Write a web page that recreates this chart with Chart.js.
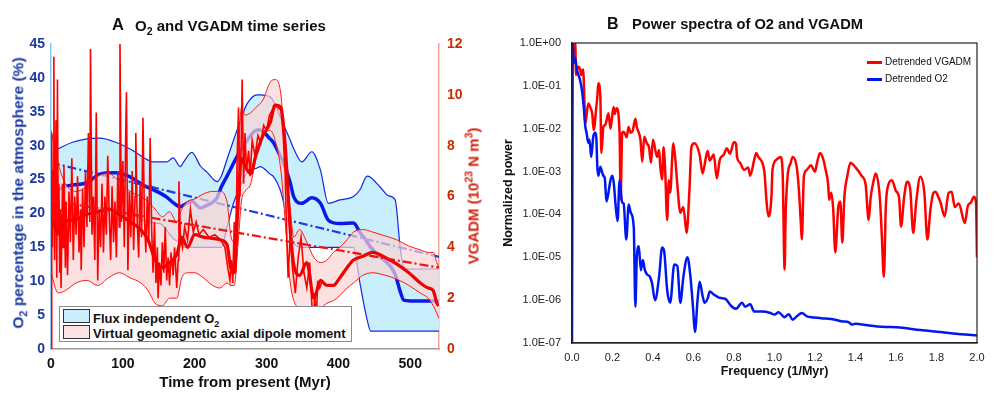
<!DOCTYPE html>
<html>
<head>
<meta charset="utf-8">
<script src="https://cdn.jsdelivr.net/npm/chart.js@4.4.1/dist/chart.umd.min.js"></script>
<style>
  body { margin: 0; background: #fff; }
  #wrap { position: relative; width: 1000px; height: 398px; font-family: "Liberation Sans", Arial, sans-serif; overflow: hidden; }
  canvas { position: absolute; top: 0; }
  #chartA { left: 0; }
  #chartB { left: 500px; }
  .lbl { position: absolute; white-space: nowrap; font-weight: bold; line-height: 1; color: #111; }
  .lbl sub, .lbl sup { font-size: 0.7em; line-height: 0; }
  .rot { transform: translate(-50%, -50%) rotate(-90deg); }
  #legA { position: absolute; left: 59px; top: 306px; width: 291px; height: 34px; border: 1px solid #8a8a8a; background: #fff; }
  .sw { position: absolute; width: 25px; height: 12px; border: 1px solid #333; }
  .legTxt { position: absolute; font-size: 13px; font-weight: bold; white-space: nowrap; line-height: 1; color: #111; }
  .legTxt sub { font-size: 0.7em; line-height: 0; }
  .legB { position: absolute; font-size: 10px; white-space: nowrap; line-height: 1; color: #111; }
  .legB i { position: absolute; left: -18px; top: 4px; width: 15px; height: 3px; }
</style>
</head>
<body>
<div id="wrap">
  <canvas id="chartA" width="500" height="398"></canvas>
  <canvas id="chartB" width="500" height="398"></canvas>

  <div class="lbl" style="left:112px; top:16px; font-size:16.5px;">A</div>
  <div class="lbl" style="left:135px; top:18px; font-size:15px;">O<sub>2</sub> and VGADM time series</div>
  <div class="lbl" style="left:607px; top:16px; font-size:16px;">B</div>
  <div class="lbl" style="left:632px; top:17px; font-size:14.7px;">Power spectra of O2 and VGADM</div>

  <div class="lbl rot" style="left:18px; top:193px; font-size:15.5px; color:#1b3a9e;">O<sub>2</sub> percentage in the atmosphere (%)</div>
  <div class="lbl rot" style="left:473px; top:196px; font-size:15px; color:#d3260e;">VGADM (10<sup>23</sup> N m<sup>3</sup>)</div>

  <div id="legA">
    <div class="sw" style="left:3px; top:2px; background:#c8effb;"></div>
    <div class="legTxt" style="left:33px; top:5px;">Flux independent O<sub>2</sub></div>
    <div class="sw" style="left:3px; top:18px; background:#fbe3e3;"></div>
    <div class="legTxt" style="left:33px; top:20px;">Virtual geomagnetic axial dipole moment</div>
  </div>

  <div class="legB" style="left:885px; top:57px;"><i style="background:#ff0000;"></i>Detrended VGADM</div>
  <div class="legB" style="left:885px; top:74px;"><i style="background:#0018f0;"></i>Detrended O2</div>
</div>

<script>
// ---- panel A: O2 (left axis, %) ----
const o2Age = [0, 15, 30, 50, 68, 90, 110, 128, 142, 152,
  161, 170, 180, 184, 196, 208, 217, 231, 237, 245,
  254, 263, 273, 287, 291, 305, 310, 319, 324, 333,
  338, 349, 363, 375, 386, 402, 421, 430, 440, 445,
  458, 470, 479, 486, 491, 500, 540];
const o2Upper = [28.9, 29.8, 30.5, 31.0, 31.1, 30.5, 29.5, 28.3, 27.6, 27.6,
  27.6, 28.2, 26.9, 27.5, 29.0, 27.0, 26.1, 24.7, 25.5, 28.0,
  30.8, 33.5, 36.2, 37.5, 37.5, 37.2, 36.5, 34.3, 33.0, 30.8,
  29.5, 27.6, 29.1, 26.4, 21.5, 22.0, 22.5, 23.5, 25.5, 25.3,
  23.9, 22.6, 22.0, 15.0, 12.0, 11.8, 11.8];
const o2Lower = [17.8, 18.5, 19.5, 20.5, 20.8, 20.6, 20.0, 19.0, 18.6, 18.5,
  17.5, 16.3, 15.6, 15.0, 15.0, 15.0, 15.0, 15.0, 15.0, 18.0,
  21.5, 23.9, 26.0, 26.7, 26.9, 25.8, 25.4, 23.5, 21.5, 17.5,
  15.6, 15.0, 15.0, 15.0, 15.0, 15.0, 15.0, 9.7, 4.3, 2.65,
  2.65, 2.65, 2.65, 2.65, 2.65, 2.65, 2.65];
const o2Median = [22.5, 23.8, 24.2, 24.5, 25.8, 26.0, 25.4, 24.2, 23.5, 23.0,
  22.4, 21.6, 21.0, 21.2, 21.8, 20.8, 21.2, 22.3, 23.9, 25.5,
  27.4, 29.2, 30.8, 32.3, 32.3, 31.0, 30.4, 28.5, 27.4, 24.5,
  22.4, 21.5, 22.3, 21.5, 19.0, 18.5, 18.6, 17.2, 15.8, 15.0,
  13.6, 12.5, 11.0, 8.5, 7.2, 7.1, 7.1];

// ---- panel A: VGADM (right axis, 10^23 N m^3) ----
const vgAge = [0, 10, 20, 35, 50, 65, 80, 95, 110, 125,
  135, 145, 155, 165, 175, 182, 190, 200, 212, 225,
  235, 245, 250, 255, 260, 265, 270, 278, 285, 295,
  305, 312, 320, 326, 333, 338, 346, 356, 366, 375,
  384, 393, 402, 412, 421, 434, 448, 465, 481, 498,
  514, 525, 532, 537, 540];
const vgUpper = [8.6, 7.3, 6.5, 6.2, 6.4, 6.8, 6.9, 6.6, 6.2, 6.0,
  5.8, 5.5, 5.2, 5.4, 5.0, 5.5, 5.8, 5.9, 6.1, 6.2,
  6.2, 5.8, 4.5, 4.2, 7.0, 9.5, 9.2, 9.3, 9.5, 9.8,
  10.5, 10.6, 10.0, 7.5, 5.5, 4.4, 4.7, 4.2, 3.6, 3.4,
  3.5, 3.8, 4.0, 4.3, 4.6, 4.7, 4.6, 4.45, 4.3, 4.05,
  3.9, 3.8, 3.8, 3.4, 3.2];
const vgLower = [3.0, 2.2, 2.3, 2.6, 2.7, 2.5, 2.8, 3.0, 2.8, 2.6,
  2.3, 1.8, 1.7, 2.0, 2.0, 2.8, 3.0, 3.0, 2.8, 2.5,
  2.4, 2.6, 2.5, 2.5, 4.0, 5.8, 6.2, 6.5, 7.5, 8.4,
  8.6, 8.2, 7.0, 5.0, 2.6, 1.9, 1.6, 1.5, 1.4, 1.6,
  1.8, 1.9, 2.1, 2.4, 2.6, 2.9, 3.0, 2.9, 2.75, 2.5,
  2.2, 2.0, 1.7, 1.4, 1.2];
const vgMedian = [5.2, 4.6, 5.0, 5.1, 5.3, 5.4, 5.5, 5.3, 5.0, 4.7,
  4.3, 3.5, 3.2, 3.4, 3.7, 4.4, 4.0, 4.5, 4.4, 4.35,
  4.3, 4.1, 3.2, 3.0, 5.5, 7.5, 7.2, 6.9, 7.6, 8.4,
  8.9, 9.6, 9.5, 8.0, 4.7, 3.3, 2.9, 3.4, 2.0, 2.7,
  2.5, 2.5, 2.8, 3.2, 3.5, 3.65, 3.8, 3.6, 3.35, 3.0,
  2.6, 2.4, 2.3, 1.8, 1.7];

// raw VGADM record
const rawAge = [0, 1, 2, 3, 4, 5, 6, 7, 8, 9,
  10, 11, 12, 13, 14, 16, 17, 18, 20, 21,
  23, 25, 27, 29, 31, 33, 35, 37, 39, 41,
  42, 44, 46, 48, 50, 52, 54, 55, 57, 59,
  61, 63, 65, 67, 69, 71, 73, 75, 77, 79,
  81, 83, 85, 87, 89, 91, 93, 95, 96, 98,
  100, 102, 104, 105, 107, 109, 111, 113, 115, 117,
  118, 120, 122, 124, 126, 128, 130, 132, 134, 136,
  138, 140, 142, 144, 146, 148, 149, 151, 153, 155,
  157, 159, 161, 163, 165, 167, 170, 172, 175, 177,
  178, 180, 183, 186, 190, 194, 198, 202, 206, 212,
  220, 228, 236, 242, 246, 249, 251, 253, 255, 257,
  259, 261, 263, 265, 266, 268, 270, 272, 275, 277,
  280, 284, 288, 292, 296, 300, 304, 308, 312, 316,
  320, 323, 326, 328, 330, 333, 336, 340, 344, 348,
  352, 356, 360, 363, 365, 367, 369, 371, 374, 378];
const rawVgadm = [0, 8.5, 4, 7, 11.5, 3.5, 6, 9, 2.8, 10.6,
  4.5, 6.5, 3, 5.5, 2.4, 6.5, 4, 7.2, 3.2, 5.8,
  2.9, 6.2, 4.2, 7.5, 3.5, 6, 4.5, 6.8, 3.8, 5.5,
  3.1, 6.3, 4, 7, 4.8, 8.5, 5, 11.8, 4.5, 6,
  3.5, 9.3, 2.7, 5.5, 4, 6.5, 3.8, 6, 4.5, 7.6,
  5.3, 3.5, 6.4, 4.2, 5.8, 3.6, 7, 4.8, 12, 5,
  7.4, 4, 8.5, 10.1, 3.1, 6.2, 4.4, 7, 3.9, 6,
  8.5, 5, 3.6, 6.5, 4.4, 9.1, 5.2, 3.8, 6, 4.2,
  8.3, 4.8, 3, 5, 2.6, 4, 2.0, 3.4, 2.5, 4.2,
  3, 4.8, 2.7, 3.6, 2.5, 3.8, 2.9, 4, 2.4, 3.5,
  6.6, 4.5, 4, 4.8, 4.3, 5.5, 4.6, 5, 4.5, 4.7,
  4.4, 4.5, 4.3, 4, 3.2, 2.7, 3.5, 2.6, 5, 3,
  7.5, 9.5, 6, 8.5, 10.6, 6.5, 8.5, 7, 7.8, 6.8,
  8.2, 7.6, 8.4, 8.1, 8.8, 8.6, 9.2, 9.4, 9.6, 9.5,
  9.4, 8.5, 6.8, 4.5, 2.8, 4.5, 3.2, 2.2, 3.6, 4.4,
  3, 2.4, 3.4, 1.8, 0.6, 2.2, 0.9, 2.6, 2.4, 2.7];

// linear trends
const trendAge = [0, 540];
const o2Trend = [27.5, 13.6];
const vgadmTrend = [5.85, 3.2];

const ageTicks = [0, 100, 200, 300, 400, 500];

// ---- panel B: power spectra ----
const freqVgadm = [0, 0.005, 0.016, 0.02, 0.03, 0.04, 0.045, 0.055, 0.066, 0.08,
  0.09, 0.1, 0.107, 0.12, 0.125, 0.13, 0.14, 0.145, 0.155, 0.165,
  0.18, 0.19, 0.205, 0.21, 0.22, 0.235, 0.24, 0.248, 0.256, 0.27,
  0.279, 0.29, 0.3, 0.313, 0.32, 0.338, 0.347, 0.357, 0.37, 0.38,
  0.39, 0.4, 0.42, 0.43, 0.436, 0.445, 0.452, 0.46, 0.47, 0.478,
  0.485, 0.495, 0.5, 0.51, 0.52, 0.535, 0.55, 0.566, 0.58, 0.59,
  0.605, 0.63, 0.645, 0.66, 0.67, 0.68, 0.7, 0.715, 0.73, 0.75,
  0.765, 0.78, 0.8, 0.81, 0.815, 0.83, 0.85, 0.87, 0.88, 0.9,
  0.91, 0.92, 0.95, 0.96, 0.97, 0.985, 0.99, 1.01, 1.03, 1.04,
  1.05, 1.055, 1.065, 1.08, 1.09, 1.11, 1.12, 1.13, 1.135, 1.145,
  1.16, 1.18, 1.2, 1.21, 1.225, 1.24, 1.25, 1.265, 1.27, 1.28,
  1.29, 1.3, 1.315, 1.325, 1.335, 1.345, 1.36, 1.375, 1.4, 1.43,
  1.45, 1.465, 1.475, 1.49, 1.5, 1.52, 1.53, 1.54, 1.55, 1.56,
  1.58, 1.6, 1.615, 1.625, 1.64, 1.655, 1.67, 1.685, 1.7, 1.72,
  1.74, 1.755, 1.77, 1.785, 1.795, 1.81, 1.82, 1.84, 1.86, 1.875,
  1.89, 1.91, 1.94, 1.955, 1.97, 1.985, 1.995, 2.0];
const powerVgadm = [2.8e-1, 5e-1, 1.0, 1.8e-1, 2.8e-1, 2.5e-1, 1.8e-1, 2.4e-1, 1.3e-2, 3.9e-2,
  3.2e-2, 2.2e-2, 9.3e-3, 3.2e-2, 5.5e-2, 1.15e-1, 5.6e-2, 2.7e-3, 1.1e-2, 1.25e-2,
  2.3e-2, 1.0e-2, 3.2e-2, 2.2e-2, 3.0e-2, 8e-3, 2.2e-4, 8e-3, 8.5e-3, 6.3e-3,
  1.1e-2, 8e-3, 9e-3, 1.7e-2, 1.1e-2, 5.5e-3, 1.7e-3, 6.5e-3, 4.5e-3, 3.8e-3,
  1.6e-3, 5.5e-3, 2.2e-3, 3.2e-3, 1.3e-3, 6.5e-4, 3.7e-3, 1.1e-3, 7.4e-5, 6.3e-4,
  3.2e-4, 2.2e-3, 4.6e-3, 2.0e-3, 5e-4, 1.1e-4, 1.5e-4, 3.7e-5, 3.8e-4, 3.8e-3,
  4.6e-3, 2.5e-3, 9e-4, 2.0e-3, 3.0e-3, 1.8e-3, 2.5e-3, 7e-4, 1.9e-3, 2.5e-3,
  3.5e-3, 2.6e-3, 4.9e-3, 4.4e-3, 2.2e-3, 1.6e-3, 1.1e-3, 1.25e-3, 8e-4, 1.9e-3,
  2.7e-3, 2.2e-3, 1.0e-3, 2.2e-4, 9e-5, 2.6e-4, 1.1e-3, 1.9e-3, 2.2e-3, 1.0e-3,
  5.2e-6, 1.0e-4, 8e-4, 1.6e-3, 2.2e-3, 1.25e-3, 4e-4, 6.3e-5, 2.6e-5, 7.6e-4,
  1.1e-3, 1.4e-3, 1.0e-3, 1.6e-3, 2.7e-3, 2.0e-3, 1.25e-3, 5e-4, 2.2e-4, 3.2e-4,
  1.3e-4, 1.3e-5, 1.5e-4, 2e-4, 2.2e-5, 2.5e-4, 8e-4, 1.6e-3, 1.25e-3, 8e-4,
  5e-4, 7.4e-5, 2.5e-4, 6.3e-4, 9e-4, 2.5e-4, 3.2e-5, 3.5e-6, 1.6e-4, 4.5e-4,
  6.3e-4, 3.5e-4, 2.5e-4, 5.2e-5, 2.5e-4, 5.8e-4, 4e-4, 3.7e-5, 2e-4, 7.6e-4,
  3.2e-4, 2.6e-5, 1.3e-4, 3.2e-4, 3.4e-4, 2.5e-4, 1.9e-4, 9e-5, 3.2e-4, 3.4e-4,
  1.5e-4, 1.8e-4, 6.3e-5, 1.6e-4, 1.9e-4, 2.6e-4, 1.9e-4, 1e-5];

const freqO2 = [0, 0.004, 0.008, 0.015, 0.025, 0.04, 0.05, 0.058, 0.066, 0.072,
  0.08, 0.085, 0.09, 0.095, 0.105, 0.115, 0.12, 0.125, 0.13, 0.14,
  0.148, 0.155, 0.162, 0.17, 0.18, 0.19, 0.2, 0.207, 0.215, 0.225,
  0.235, 0.248, 0.255, 0.268, 0.28, 0.29, 0.305, 0.313, 0.32, 0.33,
  0.34, 0.35, 0.36, 0.37, 0.385, 0.395, 0.41, 0.43, 0.445, 0.455,
  0.47, 0.485, 0.505, 0.52, 0.535, 0.55, 0.57, 0.585, 0.598, 0.607,
  0.62, 0.63, 0.645, 0.655, 0.67, 0.68, 0.7, 0.725, 0.745, 0.76,
  0.785, 0.81, 0.84, 0.855, 0.88, 0.9, 0.94, 0.98, 1.0, 1.02,
  1.05, 1.07, 1.09, 1.11, 1.135, 1.16, 1.18, 1.23, 1.3, 1.33,
  1.37, 1.38, 1.4, 1.46, 1.53, 1.62, 1.72, 1.82, 1.92, 2.0];
const powerO2 = [1e-7, 1.0, 3.4e-1, 4.5e-1, 2.3e-1, 1.35e-1, 7.4e-2, 3.2e-2, 1.1e-2, 8e-3,
  4.7e-3, 5.6e-3, 3.8e-3, 2.2e-3, 6.5e-3, 8e-3, 6.3e-3, 1.3e-3, 8e-4, 1.3e-3,
  1e-3, 8e-4, 7e-4, 2e-4, 3.2e-4, 6.3e-4, 8e-4, 5e-4, 1.7e-4, 7e-5,
  6.3e-4, 1.9e-4, 1.8e-4, 2.6e-5, 1.7e-4, 1.1e-4, 5e-5, 7e-7, 1e-5, 1.8e-5,
  5e-6, 8.7e-6, 5e-6, 4e-6, 3.5e-6, 2.5e-6, 1e-6, 3.5e-6, 1.7e-5, 1.4e-5,
  1.7e-6, 8.7e-7, 6.8e-6, 6.3e-6, 8.7e-7, 3.5e-6, 1e-5, 3.5e-6, 6.3e-7, 1.8e-7,
  1e-6, 2.7e-6, 1.25e-6, 8.7e-7, 1.1e-6, 1.6e-6, 1.35e-6, 1.15e-6, 1.1e-6, 1.05e-6,
  7.4e-7, 6.3e-7, 8.7e-7, 7e-7, 8e-7, 5.4e-7, 5.4e-7, 5e-7, 4.6e-7, 5.2e-7,
  4e-7, 4.7e-7, 3.5e-7, 4.2e-7, 5e-7, 4.2e-7, 4e-7, 3.8e-7, 3.5e-7, 3.2e-7,
  3e-7, 2.7e-7, 2.8e-7, 2.6e-7, 2.4e-7, 2.3e-7, 2e-7, 1.8e-7, 1.6e-7, 1.5e-7];

const freqTicks = [0, 0.2, 0.4, 0.6, 0.8, 1.0, 1.2, 1.4, 1.6, 1.8, 2.0];
const powerTicks = [1e-7, 1e-6, 1e-5, 1e-4, 1e-3, 1e-2, 1e-1, 1];

Chart.defaults.font.family = '"Liberation Sans", Arial, sans-serif';
Chart.defaults.animation = false;

function pts(xs, ys) {
  return xs.map((x, i) => ({ x: x, y: ys[i] }));
}

const blueTick = '#1b3a9e';
const redTick = '#cc2a00';

// ---------- chart A ----------
new Chart(document.getElementById('chartA'), {
  type: 'line',
  data: {
    datasets: [
      { data: pts(o2Age, o2Upper), yAxisID: 'y', fill: 1, backgroundColor: '#c8effb',
        borderColor: '#1428e0', borderWidth: 1.2, cubicInterpolationMode: 'monotone', order: 20 },
      { data: pts(o2Age, o2Lower), yAxisID: 'y', borderColor: '#1428e0', borderWidth: 1.2,
        cubicInterpolationMode: 'monotone', order: 19 },
      { data: pts(o2Age, o2Median), yAxisID: 'y', borderColor: '#0a1ae6', borderWidth: 3.5,
        cubicInterpolationMode: 'monotone', order: 18 },
      { data: pts(trendAge, o2Trend), yAxisID: 'y', borderColor: '#1d3fe0', borderWidth: 2.2,
        borderDash: [9, 3, 2, 3], order: 17 },
      { data: pts(vgAge, vgUpper), yAxisID: 'y1', fill: 5, backgroundColor: 'rgba(250,212,212,0.7)',
        borderColor: '#ff1a1a', borderWidth: 1, cubicInterpolationMode: 'monotone', order: 10 },
      { data: pts(vgAge, vgLower), yAxisID: 'y1', borderColor: '#ff1a1a', borderWidth: 1,
        cubicInterpolationMode: 'monotone', order: 9 },
      { data: pts(rawAge, rawVgadm), yAxisID: 'y1', borderColor: '#ff0000', borderWidth: 1.6,
        tension: 0, order: 8 },
      { data: pts(vgAge, vgMedian), yAxisID: 'y1', borderColor: '#f00000', borderWidth: 3.2,
        cubicInterpolationMode: 'monotone', order: 7 },
      { data: pts(trendAge, vgadmTrend), yAxisID: 'y1', borderColor: '#f01010', borderWidth: 2.2,
        borderDash: [9, 3, 2, 3], order: 6 }
    ]
  },
  options: {
    responsive: false,
    devicePixelRatio: 1,
    elements: { point: { radius: 0 } },
    layout: { padding: { left: 0, right: 0, top: 44, bottom: 0 } },
    plugins: { legend: { display: false }, tooltip: { enabled: false } },
    scales: {
      x: {
        type: 'linear', min: 0, max: 540,
        afterFit: s => { s.height = 49; },
        afterBuildTicks: s => { s.ticks = ageTicks.map(v => ({ value: v })); },
        grid: { display: false, drawTicks: false },
        border: { color: '#9a9a9a', width: 1.5 },
        ticks: { color: '#111', padding: 7, maxRotation: 0, font: { size: 14, weight: 'bold' } },
        title: { display: true, text: 'Time from present (Myr)', color: '#111',
          font: { size: 15, weight: 'bold' }, padding: { top: 0, bottom: 6 } }
      },
      y: {
        position: 'left', min: 0, max: 45,
        afterFit: s => { s.width = 51; },
        grid: { display: false, drawTicks: false },
        border: { color: '#8ec5ee', width: 1.5 },
        ticks: { stepSize: 5, color: blueTick, padding: 6, font: { size: 14, weight: 'bold' } }
      },
      y1: {
        position: 'right', min: 0, max: 12,
        afterFit: s => { s.width = 61; },
        grid: { display: false, drawTicks: false },
        border: { color: '#f3a48c', width: 1.5 },
        ticks: { stepSize: 2, color: redTick, padding: 8, font: { size: 14, weight: 'bold' } }
      }
    }
  }
});

// ---------- chart B ----------
function sciLabel(v) {
  const e = Math.round(Math.log10(v));
  return '1.0E' + (e < 0 ? '-' : '+') + String(Math.abs(e)).padStart(2, '0');
}

const boxPlugin = {
  id: 'box',
  afterDraw(chart) {
    const { ctx, chartArea: a } = chart;
    ctx.save();
    ctx.strokeStyle = '#222';
    ctx.lineWidth = 1.2;
    ctx.strokeRect(a.left, a.top, a.right - a.left, a.bottom - a.top);
    ctx.restore();
  }
};

new Chart(document.getElementById('chartB'), {
  type: 'line',
  data: {
    datasets: [
      { label: 'Detrended VGADM', data: pts(freqVgadm, powerVgadm), borderColor: '#ff0000',
        borderWidth: 2.5, cubicInterpolationMode: 'monotone', order: 2 },
      { label: 'Detrended O2', data: pts(freqO2, powerO2), borderColor: '#0018f0',
        borderWidth: 2.5, cubicInterpolationMode: 'monotone', order: 1 }
    ]
  },
  options: {
    responsive: false,
    devicePixelRatio: 1,
    elements: { point: { radius: 0 } },
    layout: { padding: { left: 0, right: 23, top: 43, bottom: 0 } },
    plugins: { legend: { display: false }, tooltip: { enabled: false } },
    scales: {
      x: {
        type: 'linear', min: 0, max: 2,
        afterFit: s => { s.height = 55; },
        afterBuildTicks: s => { s.ticks = freqTicks.map(v => ({ value: v })); },
        grid: { display: false, drawTicks: false },
        border: { color: '#222', width: 1.2 },
        ticks: { color: '#222', padding: 8, maxRotation: 0, font: { size: 11 },
          callback: v => v.toFixed(1) },
        title: { display: true, text: 'Frequency (1/Myr)', color: '#111',
          font: { size: 12.5, weight: 'bold' }, padding: { top: 0, bottom: 19 } }
      },
      y: {
        type: 'logarithmic', min: 1e-7, max: 1,
        afterFit: s => { s.width = 72; },
        afterBuildTicks: s => { s.ticks = powerTicks.map(v => ({ value: v })); },
        grid: { display: false, drawTicks: false },
        border: { color: '#222', width: 1.2 },
        ticks: { color: '#222', padding: 11, font: { size: 11 }, callback: v => sciLabel(v) },
        title: { display: true, text: 'Normalized power', color: '#111',
          font: { size: 12.5, weight: 'bold' }, padding: { top: 1, bottom: 0 } }
      }
    }
  },
  plugins: [boxPlugin]
});
</script>
</body>
</html>
